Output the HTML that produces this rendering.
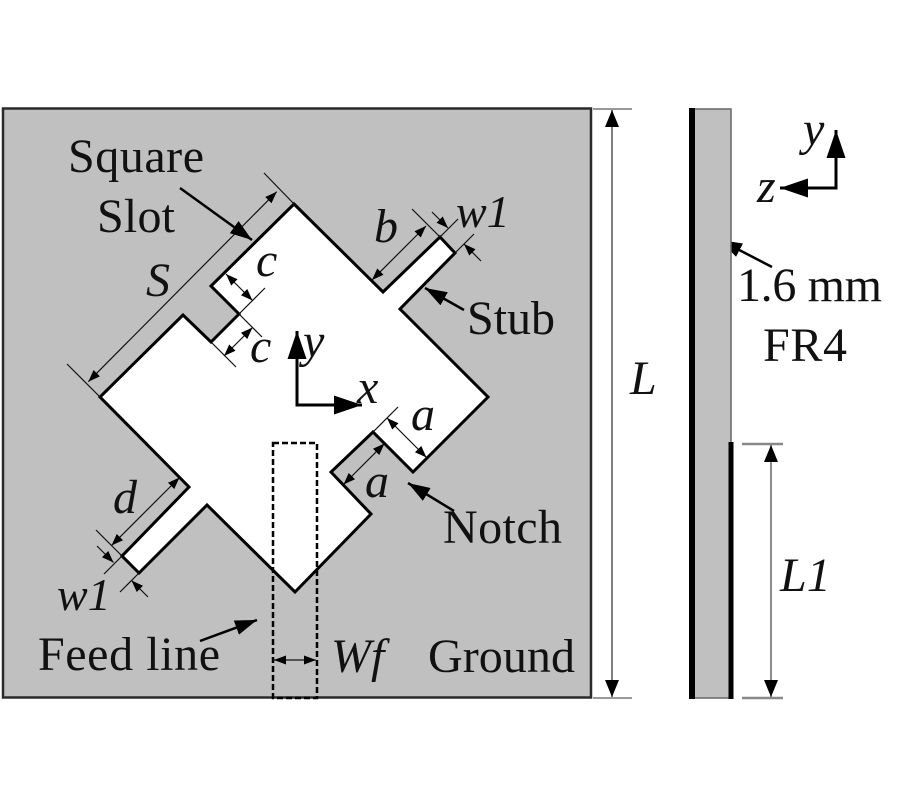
<!DOCTYPE html>
<html><head><meta charset="utf-8"><style>
html,body{margin:0;padding:0;background:#fff;}
svg{display:block;}
text{font-family:"Liberation Serif","Times New Roman",serif;font-size:48px;fill:#111;}
.i{font-style:italic;}
</style></head><body>
<svg width="900" height="800" viewBox="0 0 900 800" xmlns="http://www.w3.org/2000/svg">
<defs>
<marker id="s" markerUnits="userSpaceOnUse" markerWidth="12" markerHeight="9" refX="12" refY="4.5" orient="auto-start-reverse"><path d="M0,0 L12,4.5 L0,9 z" fill="#000"/></marker>
<marker id="s2" markerUnits="userSpaceOnUse" markerWidth="17" markerHeight="14" refX="17" refY="7" orient="auto-start-reverse"><path d="M0,0 L17,7 L0,14 z" fill="#000"/></marker>
<marker id="m" markerUnits="userSpaceOnUse" markerWidth="22" markerHeight="15" refX="22" refY="7.5" orient="auto-start-reverse"><path d="M0,0 L22,7.5 L0,15 z" fill="#000"/></marker>
<marker id="l" markerUnits="userSpaceOnUse" markerWidth="28" markerHeight="19" refX="28" refY="9.5" orient="auto-start-reverse"><path d="M0,0 L28,9.5 L0,19 z" fill="#000"/></marker>
</defs>
<rect width="900" height="800" fill="#fff"/>

<!-- ground plane -->
<rect x="3" y="108.5" width="588" height="589" fill="#c0c0c0" stroke="#2a2a2a" stroke-width="2.5"/>

<!-- slot -->
<polygon points="294,204 383,292 440,237 455,253 400,309 488,397 413,472 373,432 331,472 371,514 295,592 207,505 139,573 122,556 189,487 100,397 183,315 211,342 239,314 211,286" fill="#fff" stroke="#000" stroke-width="3"/>

<!-- feed line -->
<rect x="273" y="443" width="44" height="255" fill="none" stroke="#000" stroke-width="2.5" stroke-dasharray="6,3"/>

<g stroke="#111" stroke-width="1.2" fill="none">
<!-- S dimension -->
<line x1="296" y1="206" x2="264" y2="173"/>
<line x1="100" y1="397" x2="67" y2="364"/>
<line x1="276.7" y1="191.7" x2="88.3" y2="381.7" marker-start="url(#s)" marker-end="url(#s)"/>
<!-- b dimension -->
<line x1="440" y1="237" x2="412" y2="209"/>
<line x1="372" y1="280" x2="426" y2="226" marker-start="url(#s)" marker-end="url(#s)"/>
<!-- w1 top -->
<line x1="440" y1="237" x2="458" y2="219"/>
<line x1="455" y1="253" x2="474" y2="234"/>
<line x1="432" y1="212" x2="448" y2="228" marker-end="url(#s)"/>
<line x1="481" y1="261" x2="464" y2="244" marker-end="url(#s)"/>
<!-- c dims -->
<line x1="239" y1="314" x2="265" y2="288"/>
<line x1="239" y1="314" x2="262" y2="337"/>
<line x1="211" y1="342" x2="236" y2="367"/>
<line x1="226" y1="274" x2="252.5" y2="300.5" marker-start="url(#s)" marker-end="url(#s)"/>
<line x1="224" y1="356" x2="252.5" y2="327.5" marker-start="url(#s)" marker-end="url(#s)"/>
<!-- a dims -->
<line x1="373" y1="432" x2="398" y2="407"/>
<line x1="387" y1="418" x2="426.5" y2="457.5" marker-start="url(#s)" marker-end="url(#s)"/>
<line x1="384.5" y1="443.5" x2="343.5" y2="484.5" marker-start="url(#s)" marker-end="url(#s)"/>
<!-- d dim -->
<line x1="122" y1="556" x2="96" y2="530"/>
<line x1="179.5" y1="477.5" x2="111.5" y2="545.5" marker-start="url(#s)" marker-end="url(#s)"/>
<!-- w1 bottom -->
<line x1="122" y1="556" x2="104" y2="574"/>
<line x1="139" y1="573" x2="120" y2="592"/>
<line x1="97" y1="546" x2="113.5" y2="562.5" marker-end="url(#s)"/>
<line x1="148" y1="597" x2="131.5" y2="580.5" marker-end="url(#s)"/>
<!-- Wf -->
<line x1="274" y1="660" x2="316" y2="660" marker-start="url(#s)" marker-end="url(#s)"/>
</g>

<!-- label arrows -->
<g stroke="#000" stroke-width="2.5">
<line x1="180" y1="188" x2="252" y2="240" marker-end="url(#m)"/>
<line x1="464" y1="310" x2="425" y2="288" marker-end="url(#m)"/>
<line x1="454" y1="511" x2="408" y2="483" marker-end="url(#m)"/>
<line x1="200" y1="641" x2="257" y2="620" marker-end="url(#m)"/>
<line x1="772" y1="267" x2="720" y2="240" marker-end="url(#m)"/>
</g>

<!-- origin axes -->
<g stroke="#000" stroke-width="3">
<line x1="297" y1="406" x2="297" y2="331" marker-end="url(#l)"/>
<line x1="295.5" y1="405" x2="362" y2="405" marker-end="url(#l)"/>
<line x1="836" y1="189.5" x2="836" y2="130" marker-end="url(#l)"/>
<line x1="837.5" y1="188" x2="780" y2="188" marker-end="url(#l)"/>
</g>

<!-- side view -->
<rect x="692" y="109" width="39" height="589" fill="#c0c0c0" stroke="#666" stroke-width="1.5"/>
<line x1="692" y1="108" x2="692" y2="699" stroke="#000" stroke-width="6"/>
<line x1="731" y1="442" x2="731" y2="699" stroke="#000" stroke-width="5"/>

<!-- L dim -->
<line x1="593" y1="109" x2="632" y2="109" stroke="#777" stroke-width="1.5"/>
<line x1="593" y1="698" x2="632" y2="698" stroke="#777" stroke-width="1.5"/>
<line x1="612" y1="110" x2="612" y2="697" stroke="#555" stroke-width="1.5" marker-start="url(#s2)" marker-end="url(#s2)"/>
<!-- L1 dim -->
<line x1="742" y1="444" x2="783" y2="444" stroke="#888" stroke-width="2.5"/>
<line x1="742" y1="698" x2="783" y2="698" stroke="#888" stroke-width="2.5"/>
<line x1="771" y1="445" x2="771" y2="697" stroke="#666" stroke-width="1.5" marker-start="url(#s2)" marker-end="url(#s2)"/>

<!-- text labels -->
<text x="68" y="172" textLength="136">Square</text>
<text x="97" y="232" textLength="78">Slot</text>
<text class="i" x="146" y="296">S</text>
<text class="i" x="374" y="242">b</text>
<text class="i" x="456" y="227" style="font-size:46px">w1</text>
<text x="467" y="334" textLength="88">Stub</text>
<text class="i" x="256" y="276">c</text>
<text class="i" x="250" y="362">c</text>
<text class="i" x="303" y="357">y</text>
<text class="i" x="357" y="403">x</text>
<text class="i" x="411" y="430">a</text>
<text class="i" x="365" y="497">a</text>
<text x="443" y="543" textLength="119">Notch</text>
<text class="i" x="113" y="513">d</text>
<text class="i" x="57" y="610" style="font-size:46px">w1</text>
<text x="38" y="670" textLength="182">Feed line</text>
<text class="i" x="331" y="672">Wf</text>
<text x="428" y="672" textLength="147">Ground</text>
<text class="i" x="630" y="394">L</text>
<text x="737" y="301" textLength="145">1.6 mm</text>
<text x="763" y="361" textLength="84">FR4</text>
<text class="i" x="780" y="591">L1</text>
<text class="i" x="803" y="145">y</text>
<text class="i" x="757" y="202">z</text>
</svg>
</body></html>
